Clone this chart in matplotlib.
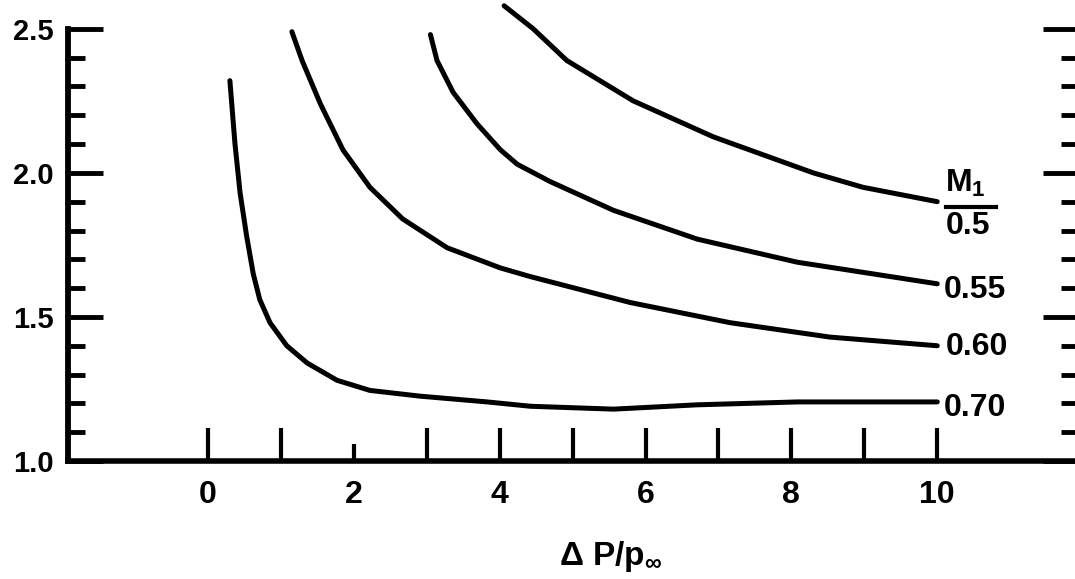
import numpy as np
import matplotlib
matplotlib.use("Agg")
import matplotlib.pyplot as plt

plt.rcParams['font.family'] = ['Liberation Sans', 'DejaVu Sans']
plt.rcParams['font.weight'] = 'bold'
plt.rcParams['mathtext.fontset'] = 'custom'
plt.rcParams['mathtext.rm'] = 'Liberation Sans:bold'
plt.rcParams['mathtext.it'] = 'Liberation Sans:bold'
plt.rcParams['mathtext.bf'] = 'Liberation Sans:bold'

# pressure ratio dP/p_inf vs. y, one curve per upstream Mach number M1
x_070 = [0.30, 0.37, 0.44, 0.53, 0.62, 0.71, 0.85, 1.08, 1.36, 1.77, 2.22, 2.91, 3.83,
         4.42, 5.56, 6.71, 8.08, 10.0]
y_070 = [2.32, 2.10, 1.93, 1.78, 1.65, 1.56, 1.48, 1.40, 1.34, 1.28, 1.245, 1.225, 1.205,
         1.19, 1.18, 1.195, 1.205, 1.205]

x_060 = [1.15, 1.29, 1.54, 1.85, 2.22, 2.67, 3.28, 4.01, 4.42, 5.79, 7.16, 8.53, 10.0]
y_060 = [2.49, 2.39, 2.24, 2.08, 1.95, 1.84, 1.74, 1.67, 1.64, 1.55, 1.48, 1.43, 1.40]

x_055 = [3.05, 3.14, 3.36, 3.69, 4.01, 4.24, 4.69, 5.56, 6.71, 8.08, 10.0]
y_055 = [2.48, 2.39, 2.28, 2.17, 2.08, 2.03, 1.97, 1.87, 1.77, 1.69, 1.615]

x_050 = [4.06, 4.46, 4.92, 5.83, 6.93, 8.30, 8.98, 10.0]
y_050 = [2.58, 2.50, 2.39, 2.25, 2.125, 2.00, 1.95, 1.90]

x_ticks = list(range(0, 11))
x_ticklabels = [str(v) if v % 2 == 0 else '' for v in x_ticks]
y_ticks = [1.0, 1.5, 2.0, 2.5]
y_ticklabels = ['1.0', '1.5', '2.0', '2.5']
y_minor = [1.1, 1.2, 1.3, 1.4, 1.6, 1.7, 1.8, 1.9, 2.1, 2.2, 2.3, 2.4]

fig = plt.figure(figsize=(10.75, 5.79), dpi=100)
ax = fig.add_axes([68 / 1075, 118 / 579, 1010 / 1075, 461 / 579])
ax.set_xlim(-1.92, 11.93)
ax.set_ylim(1.0, 2.6)

lw = 3.6
for xs, ys in [(x_070, y_070), (x_060, y_060), (x_055, y_055), (x_050, y_050)]:
    ax.plot(xs, ys, color='black', lw=lw, solid_capstyle='round',
            solid_joinstyle='round', clip_on=False)

# curve labels at the right-hand ends
lab = dict(fontsize=23, fontweight='bold', textcoords='offset pixels', va='center', ha='left')
ax.annotate('0.70', xy=(x_070[-1], y_070[-1]), xytext=(6, -6), **lab)
ax.annotate('0.60', xy=(x_060[-1], y_060[-1]), xytext=(8, -1), **lab)
ax.annotate('0.55', xy=(x_055[-1], y_055[-1]), xytext=(6, -6), **lab)
ax.annotate('0.5', xy=(x_050[-1], y_050[-1]), xytext=(8, -24), **lab)
ax.annotate('$M_1$', xy=(x_050[-1], y_050[-1]), xytext=(8, 18), **lab)
ax.plot([10.12, 10.80], [1.882, 1.882], color='black', lw=3.0, clip_on=False)

# axes frame: only left and bottom drawn
for s in ['top', 'right']:
    ax.spines[s].set_visible(False)
ax.spines['left'].set_bounds(1.0, 2.5)
ax.spines['left'].set_linewidth(4.2)
ax.spines['bottom'].set_linewidth(4)

ax.set_xticks(x_ticks)
ax.set_xticklabels(x_ticklabels)
ax.set_yticks(y_ticks)
ax.set_yticklabels(y_ticklabels)
ax.set_yticks(y_minor, minor=True)

ax.tick_params(axis='x', direction='in', length=24, width=3, pad=14, labelsize=23)
ax.tick_params(axis='y', which='major', direction='in', length=25, width=3.5,
               left=True, right=True, labelright=False, pad=10, labelsize=21)
ax.tick_params(axis='y', which='minor', direction='in', length=12, width=3.5,
               left=True, right=True)
# the tick at 2 is drawn short
ax.xaxis.get_major_ticks()[2].tick1line.set_markersize(12)
for t in ax.get_xticklabels() + ax.get_yticklabels():
    t.set_fontweight('bold')

fig.text(611 / 1075, 1 - 557 / 579, r'$\Delta$ P/p$_\infty$', fontsize=24,
         fontweight='bold', ha='center', va='center')

fig.savefig('out.png', dpi=100)
